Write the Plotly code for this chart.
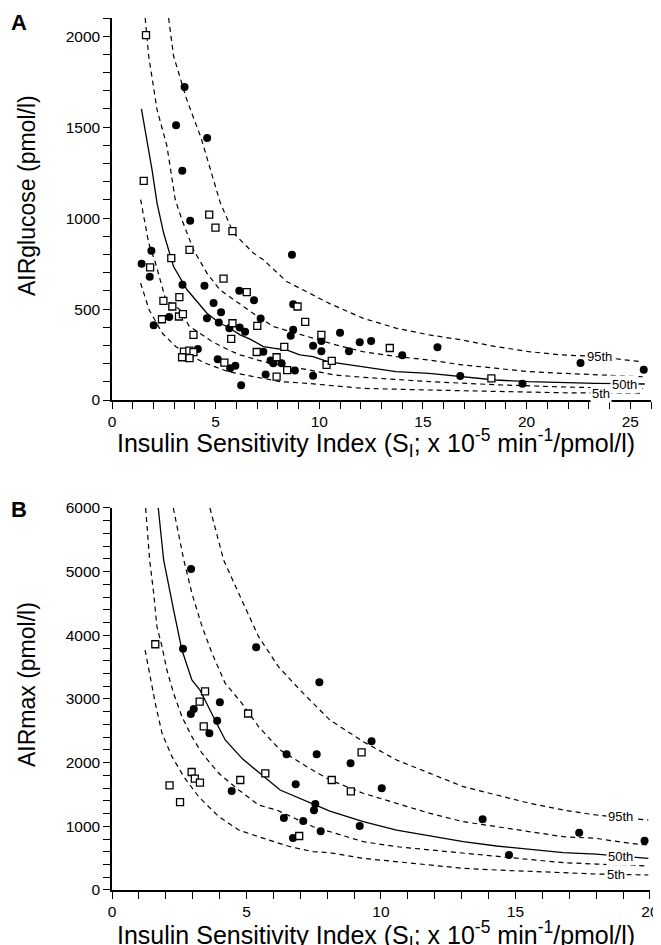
import plotly.graph_objects as go

# ---------------- Panel A: AIRglucose ----------------
a_circ_x = [3.5, 3.09, 4.59, 3.39, 3.77, 1.9, 1.43, 1.82, 3.4, 4.46, 6.14, 8.68, 4.9, 6.85, 5.26, 8.74,
            4.58, 2.76, 5.15, 5.66, 6.16, 6.42, 7.17, 8.74, 8.62, 2.01, 4.14, 9.7, 10.1, 10.1, 5.1, 5.95,
            5.7, 7.3, 7.65, 7.78, 8.18, 8.82, 7.41, 9.7, 6.23, 11.0, 11.43, 11.95, 12.5, 14.0, 15.7, 16.8,
            19.8, 22.6, 25.65]
a_circ_y = [1721, 1511, 1440, 1260, 986, 821, 749, 678, 634, 628, 601, 799, 533, 549, 483, 527,
            450, 456, 426, 395, 399, 375, 448, 386, 354, 411, 281, 298, 324, 268, 224, 189,
            175, 266, 217, 202, 202, 162, 140, 134, 81, 370, 268, 318, 325, 246, 290, 132,
            90, 204, 167]
a_sq_x = [1.64, 1.53, 4.69, 4.99, 5.81, 3.74, 2.86, 1.84, 5.38, 6.5, 2.48, 3.25, 2.91, 8.95, 2.41, 3.23,
          3.42, 5.81, 7.01, 9.32, 3.93, 5.75, 10.1, 8.31, 6.98, 3.47, 3.73, 3.93, 3.38, 3.74, 7.94, 5.42,
          8.45, 7.94, 10.35, 10.6, 13.4, 18.3]
a_sq_y = [2006, 1205, 1019, 948, 928, 825, 780, 729, 667, 593, 545, 566, 514, 514, 444, 459,
          472, 422, 408, 430, 358, 336, 358, 292, 264, 266, 272, 263, 235, 230, 235, 206,
          164, 129, 193, 215, 286, 119]

a_p95_x = [2.73, 2.97, 3.6, 4.3, 5.22, 5.86, 6.8, 7.3, 8.42, 9.38, 10.5, 12.1, 13.7, 15.3, 16.9, 18.5,
           20.1, 21.7, 23.3, 25.5]
a_p95_y = [2100, 1891, 1653, 1440, 1085, 918, 810, 771, 652, 597, 530, 450, 395, 358, 330, 294,
           266, 248, 240, 211]
a_p75_x = [1.6, 1.77, 2.17, 2.65, 3.05, 3.37, 3.93, 4.58, 5.2, 5.86, 6.8, 7.78, 8.9, 9.87, 10.8, 12.1,
           13.7, 15.3, 16.9, 18.5, 20.1, 21.7, 23.3, 25.6]
a_p75_y = [2100, 1891, 1598, 1396, 1102, 992, 826, 698, 606, 551, 477, 404, 367, 331, 303, 266,
           239, 220, 193, 175, 156, 147, 138, 128]
a_p50_x = [1.42, 1.69, 1.93, 2.17, 2.49, 2.97, 3.62, 4.58, 5.2, 5.54, 6.18, 6.66, 7.3, 7.78, 8.42, 9.06,
           9.7, 10.4, 12.1, 13.7, 15.3, 16.9, 18.5, 20.1, 21.7, 23.3, 25.7]
a_p50_y = [1601, 1432, 1267, 1084, 918, 734, 606, 477, 422, 404, 358, 335, 294, 285, 275, 248,
           239, 211, 184, 156, 147, 128, 110, 101, 95, 92, 88]
a_p25_x = [1.38, 1.77, 2.1, 2.59, 3.29, 3.71, 4.83, 5.63, 6.18, 7.3, 8.42, 9.54, 10.7, 12.1, 15.3, 18.5,
           21.7, 25.6]
a_p25_y = [1102, 863, 753, 551, 496, 408, 321, 275, 248, 211, 184, 165, 138, 125, 101, 84,
           72, 62]
a_p05_x = [1.38, 1.79, 2.43, 3.07, 3.71, 4.51, 5.6, 6.8, 8.1, 9.38, 10.66, 12.1, 15.3, 18.5, 21.7, 25.5]
a_p05_y = [643, 496, 367, 294, 248, 202, 156, 128, 101, 92, 77, 64, 55, 46, 40, 36]

# ---------------- Panel B: AIRmax ----------------
b_circ_x = [2.94, 2.64, 5.36, 7.71, 2.93, 3.04, 4.01, 3.91, 3.62, 6.49, 7.61, 6.83, 4.45, 7.56, 7.51,
            6.39, 7.11, 7.76, 6.73, 9.65, 8.87, 10.03, 9.21, 13.78, 14.76, 17.37, 19.8]
b_circ_y = [5042, 3790, 3811, 3262, 2764, 2843, 2948, 2659, 2461, 2131, 2131, 1660, 1555, 1351, 1251,
            1131, 1084, 921, 817, 2335, 1990, 1597, 1005, 1110, 550, 900, 775]
b_sq_x = [1.61, 3.46, 3.26, 3.41, 5.06, 5.7, 2.96, 3.08, 3.27, 2.14, 4.77, 2.53, 6.96, 8.17, 9.28, 8.88]
b_sq_y = [3860, 3120, 2958, 2571, 2772, 1833, 1853, 1748, 1688, 1644, 1728, 1380, 848, 1728, 2163, 1550]

b_p95_x = [3.64, 4.15, 4.71, 5.45, 6.2, 6.99, 8.1, 9.34, 10.58, 11.82, 13.06, 14.3, 15.54, 16.78, 18.0, 19.94]
b_p95_y = [6000, 5183, 4660, 3979, 3500, 3141, 2670, 2330, 2042, 1833, 1623, 1492, 1361, 1256, 1178, 1099]
b_p75_x = [2.28, 2.67, 2.97, 3.35, 3.72, 4.21, 4.83, 5.45, 6.25, 7.24, 8.1, 9.34, 10.58, 11.82, 13.06,
           14.3, 15.54, 16.78, 18.0, 19.26, 19.94]
b_p75_y = [6000, 5183, 4660, 4136, 3717, 3246, 2932, 2565, 2199, 1937, 1728, 1519, 1361, 1204, 1073,
           994, 916, 837, 811, 733, 707]
b_p50_x = [1.72, 1.92, 2.29, 2.6, 2.97, 3.27, 3.89, 4.21, 4.85, 5.58, 6.25, 8.1, 9.34, 10.58, 11.82,
           13.06, 14.3, 15.54, 16.78, 18.0, 19.94]
b_p50_y = [6000, 5183, 4398, 3769, 3298, 3141, 2618, 2356, 2060, 1806, 1571, 1240, 1073, 942, 848,
           759, 691, 639, 586, 565, 497]
b_p25_x = [1.25, 1.4, 1.55, 1.67, 1.86, 2.04, 2.29, 2.6, 2.97, 3.35, 3.97, 4.71, 5.45, 6.12, 7.48, 8.1,
           9.34, 10.58, 11.82, 13.06, 14.3, 15.54, 16.78, 18.0, 19.94]
b_p25_y = [6000, 5183, 4660, 4136, 3822, 3455, 3089, 2722, 2408, 2147, 1833, 1571, 1335, 1256, 994, 916,
           759, 680, 628, 576, 523, 471, 429, 408, 377]
b_p05_x = [1.23, 1.42, 1.61, 1.86, 2.23, 2.67, 3.22, 3.97, 4.71, 5.45, 6.62, 7.48, 8.1, 9.34, 10.58,
           11.82, 13.06, 14.3, 15.54, 16.78, 18.0, 19.94]
b_p05_y = [3769, 3350, 2932, 2461, 2094, 1780, 1466, 1152, 942, 837, 680, 602, 586, 497, 445,
           393, 340, 314, 288, 272, 251, 236]

pct_labels = ["95th", "50th", "5th"]
a_lab_x = [23.5, 24.7, 23.6]
a_lab_y = [237, 84, 34]
b_lab_x = [18.9, 18.9, 18.75]
b_lab_y = [1152, 523, 236]

FONT = "Liberation Sans, Arial, Helvetica, sans-serif"
fig = go.Figure()

def add_curves(xs_ys, xa, ya):
    for (xs, ys, solid) in xs_ys:
        fig.add_trace(go.Scatter(
            x=xs, y=ys, mode="lines", xaxis=xa, yaxis=ya, hoverinfo="skip",
            line=dict(color="black", width=1.3 if solid else 1.2,
                      dash="solid" if solid else "5px,4px", shape="linear")))

def add_points(cx, cy, sx, sy, xa, ya):
    fig.add_trace(go.Scatter(x=cx, y=cy, mode="markers", xaxis=xa, yaxis=ya,
                             marker=dict(symbol="circle", size=8, color="black",
                                         line=dict(width=0))))
    fig.add_trace(go.Scatter(x=sx, y=sy, mode="markers", xaxis=xa, yaxis=ya,
                             marker=dict(symbol="square", size=7, color="white",
                                         line=dict(width=1.3, color="black"))))

add_curves([(a_p95_x, a_p95_y, False), (a_p75_x, a_p75_y, False), (a_p50_x, a_p50_y, True),
            (a_p25_x, a_p25_y, False), (a_p05_x, a_p05_y, False)], "x", "y")
add_points(a_circ_x, a_circ_y, a_sq_x, a_sq_y, "x", "y")
add_curves([(b_p95_x, b_p95_y, False), (b_p75_x, b_p75_y, False), (b_p50_x, b_p50_y, True),
            (b_p25_x, b_p25_y, False), (b_p05_x, b_p05_y, False)], "x2", "y2")
add_points(b_circ_x, b_circ_y, b_sq_x, b_sq_y, "x2", "y2")

axis_common = dict(showline=True, linecolor="black", linewidth=1.5, showgrid=False, zeroline=False,
                   ticks="outside", ticklen=7, tickwidth=1.2, tickcolor="black",
                   tickfont=dict(family=FONT, size=15.5, color="black"), automargin=False)

# page body has an 8px default margin, so the figure is sized to end at the window edge
fig.update_layout(
    width=653, height=937, template="none", showlegend=False,
    paper_bgcolor="white", plot_bgcolor="white",
    margin=dict(l=104, r=10, t=10, b=55),
    xaxis=dict(domain=[0, 1], range=[0, 26], dtick=5, tick0=0, anchor="y",
               minor=dict(dtick=1, ticklen=7, tickwidth=1.2, tickcolor="black", ticks="outside"),
               **axis_common),
    yaxis=dict(domain=[0.5619, 1], range=[0, 2100], dtick=500, tick0=0, anchor="x",
               minor=dict(dtick=100, ticklen=7, tickwidth=1.2, tickcolor="black", ticks="outside"),
               **axis_common),
    xaxis2=dict(domain=[0, 0.998], range=[0, 20], dtick=5, tick0=0, anchor="y2",
                minor=dict(dtick=1, ticklen=7, tickwidth=1.2, tickcolor="black", ticks="outside"),
                **axis_common),
    yaxis2=dict(domain=[0, 0.4381], range=[0, 6000], dtick=1000, tick0=0, anchor="x2",
                minor=dict(dtick=200, ticklen=7, tickwidth=1.2, tickcolor="black", ticks="outside"),
                **axis_common),
)

xtitle = "Insulin Sensitivity Index (S<sub>I</sub>; x 10<sup>-5</sup> min<sup>-1</sup>/pmol/l)"
anns = [
    dict(text=xtitle, xref="paper", yref="paper", x=0.49, y=0.5126, showarrow=False,
         xanchor="center", yanchor="middle", font=dict(family=FONT, size=25, color="black")),
    dict(text=xtitle, xref="paper", yref="paper", x=0.49, y=-0.0516, showarrow=False,
         xanchor="center", yanchor="middle", font=dict(family=FONT, size=25, color="black")),
    dict(text="AIRglucose (pmol/l)", xref="paper", yref="paper", x=-0.1577, y=0.797, textangle=-90,
         showarrow=False, xanchor="center", yanchor="middle", font=dict(family=FONT, size=23, color="black")),
    dict(text="AIRmax (pmol/l)", xref="paper", yref="paper", x=-0.1577, y=0.2362, textangle=-90,
         showarrow=False, xanchor="center", yanchor="middle", font=dict(family=FONT, size=23, color="black")),
    dict(text="<b>A</b>", xref="paper", yref="paper", x=-0.1725, y=0.9954, showarrow=False,
         xanchor="center", yanchor="middle", font=dict(family=FONT, size=22, color="black")),
    dict(text="<b>B</b>", xref="paper", yref="paper", x=-0.1725, y=0.4369, showarrow=False,
         xanchor="center", yanchor="middle", font=dict(family=FONT, size=22, color="black")),
]
for lab, lx, ly in zip(pct_labels, a_lab_x, a_lab_y):
    anns.append(dict(text=lab, xref="x", yref="y", x=lx, y=ly, showarrow=False, bgcolor="white",
                     borderpad=1, xanchor="center", yanchor="middle",
                     font=dict(family=FONT, size=13, color="black")))
for lab, lx, ly in zip(pct_labels, b_lab_x, b_lab_y):
    anns.append(dict(text=lab, xref="x2", yref="y2", x=lx, y=ly, showarrow=False, bgcolor="white",
                     borderpad=1, xanchor="center", yanchor="middle",
                     font=dict(family=FONT, size=13, color="black")))
fig.update_layout(annotations=anns)

fig.write_html("out.html")
